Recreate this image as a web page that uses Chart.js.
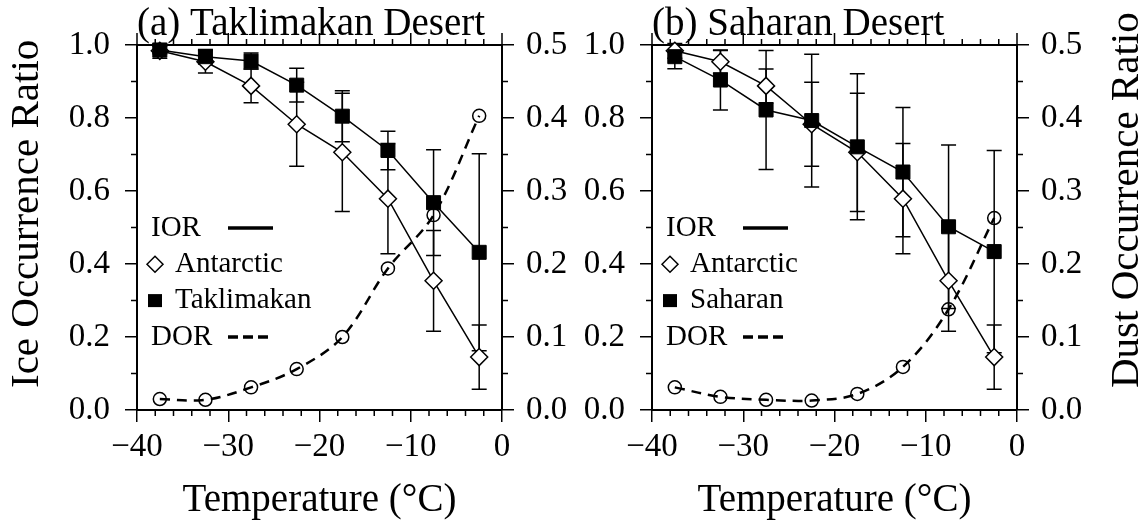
<!DOCTYPE html>
<html>
<head>
<meta charset="utf-8">
<script src="https://cdn.jsdelivr.net/npm/chart.js@4"></script>
<style>
  body { margin: 0; background: #fff; }
  .wrap { display: flex; width: 1148px; height: 524px; }
  canvas { display: block; }
</style>
</head>
<body>
<div class="wrap">
  <canvas id="chartA" width="574" height="524"></canvas>
  <canvas id="chartB" width="574" height="524"></canvas>
</div>
<script>
"use strict";

// Data (bin centres in °C)

const temps = [-37.5, -32.5, -27.5, -22.5, -17.5, -12.5, -7.5, -2.5];

const antarcticIOR = [0.984, 0.954, 0.888, 0.783, 0.706, 0.579, 0.354, 0.145];
const antarcticErr = [0.02, 0.031, 0.046, 0.115, 0.162, 0.151, 0.138, 0.088];

const taklimakanIOR = [0.986, 0.968, 0.956, 0.89, 0.805, 0.711, 0.568, 0.432];
const taklimakanErr = [0.01, 0.02, 0.022, 0.046, 0.07, 0.053, 0.145, 0.27];
const taklimakanDOR = [0.015, 0.014, 0.031, 0.056, 0.1, 0.194, 0.267, 0.403];

const saharanIOR = [0.968, 0.904, 0.822, 0.793, 0.721, 0.652, 0.502, 0.434];
const saharanErr = [0.033, 0.082, 0.163, 0.182, 0.2, 0.177, 0.224, 0.277];
const saharanDOR = [0.031, 0.018, 0.014, 0.013, 0.022, 0.059, 0.138, 0.263];

const legendHeads = ["IOR", "DOR"];

const FONT = '"Liberation Serif", "Times New Roman", serif';
Chart.defaults.font.family = FONT;
Chart.defaults.color = "#000";

const pts = (arr) => temps.map((t, i) => ({ x: t, y: arr[i] }));

// Error bars, drawn under the markers

const errorBars = {
  id: "errorBars",
  beforeDatasetsDraw(chart) {
    const ctx = chart.ctx;
    const xs = chart.scales.x;
    chart.data.datasets.forEach((ds) => {
      if (!ds.errors) return;
      const ys = chart.scales[ds.yAxisID];
      ctx.save();
      ctx.strokeStyle = "#000";
      ctx.lineWidth = 1.5;
      ctx.beginPath();
      ds.data.forEach((p, j) => {
        const px = xs.getPixelForValue(p.x);
        const top = ys.getPixelForValue(p.y + ds.errors[j]);
        const bot = ys.getPixelForValue(p.y - ds.errors[j]);
        ctx.moveTo(px, top);
        ctx.lineTo(px, bot);
        ctx.moveTo(px - 7.5, top);
        ctx.lineTo(px + 7.5, top);
        ctx.moveTo(px - 7.5, bot);
        ctx.lineTo(px + 7.5, bot);
      });
      ctx.stroke();
      ctx.restore();
    });
  },
};

// Top border, top ticks and minor ticks

const frame = {
  id: "frame",
  beforeDatasetsDraw(chart) {
    const { ctx, chartArea: a, scales } = chart;
    ctx.save();
    ctx.strokeStyle = "#000";
    ctx.lineWidth = 2;
    ctx.beginPath();
    ctx.moveTo(a.left - 1, a.top);
    ctx.lineTo(a.right + 1, a.top);
    ctx.stroke();
    ctx.lineWidth = 1.5;
    ctx.beginPath();
    for (let v = -40; v <= 0; v += 2) {
      const px = scales.x.getPixelForValue(v);
      const major = v % 10 === 0;
      ctx.moveTo(px, a.top);
      ctx.lineTo(px, a.top - (major ? 12 : 6));
      if (!major) {
        ctx.moveTo(px, a.bottom);
        ctx.lineTo(px, a.bottom + 6);
      }
    }
    for (let k = 1; k < 10; k += 2) {
      const py = scales.y.getPixelForValue(k / 10);
      ctx.moveTo(a.left, py);
      ctx.lineTo(a.left - 6, py);
      const py2 = scales.y2.getPixelForValue(k / 20);
      ctx.moveTo(a.right, py2);
      ctx.lineTo(a.right + 6, py2);
    }
    ctx.stroke();
    ctx.restore();
  },
};

// Legend inside the plot

const insideLegend = {
  id: "insideLegend",
  afterDatasetsDraw(chart) {
    const { ctx, chartArea: a } = chart;
    const ds = chart.data.datasets;
    const x0 = a.left;
    const rowY = (i) => a.top + 183 + 36.3 * i;
    ctx.save();
    ctx.font = "29px " + FONT;
    ctx.fillStyle = "#000";
    ctx.strokeStyle = "#000";
    ctx.textBaseline = "middle";
    ctx.textAlign = "left";

    // IOR
    ctx.fillText(legendHeads[0], x0 + 14, rowY(0));
    ctx.lineWidth = 3.5;
    ctx.beginPath();
    ctx.moveTo(x0 + 91, rowY(0));
    ctx.lineTo(x0 + 136, rowY(0));
    ctx.stroke();

    // Antarctic diamond
    const dy = rowY(1);
    ctx.lineWidth = 1.5;
    ctx.beginPath();
    ctx.moveTo(x0 + 18 - 8, dy);
    ctx.lineTo(x0 + 18, dy - 8);
    ctx.lineTo(x0 + 18 + 8, dy);
    ctx.lineTo(x0 + 18, dy + 8);
    ctx.closePath();
    ctx.stroke();
    ctx.fillText(ds[1].label, x0 + 38, dy);

    // desert square
    const sy = rowY(2);
    ctx.fillRect(x0 + 11, sy - 6.5, 14, 13);
    ctx.fillText(ds[0].label, x0 + 38, sy);

    // DOR
    ctx.fillText(legendHeads[1], x0 + 14, rowY(3));
    ctx.lineWidth = 3.5;
    ctx.setLineDash([10, 5]);
    ctx.beginPath();
    ctx.moveTo(x0 + 91, rowY(3));
    ctx.lineTo(x0 + 131, rowY(3));
    ctx.stroke();
    ctx.restore();
  },
};

// Rotated side titles, reading bottom to top

const sideTitle = {
  id: "sideTitle",
  afterDraw(chart, args, opts) {
    if (!opts.text) return;
    const ctx = chart.ctx;
    ctx.save();
    ctx.font = "41px " + FONT;
    ctx.fillStyle = "#000";
    ctx.translate(opts.x, chart.chartArea.bottom - 22);
    ctx.rotate(-Math.PI / 2);
    ctx.textAlign = "left";
    ctx.textBaseline = "middle";
    ctx.fillText(opts.text, 0, 0);
    ctx.restore();
  },
};

const makeChart = (canvasId, title, site, siteIOR, siteErr, siteDOR, leftWidth, rightWidth, side) => {
  const tickGrid = { drawOnChartArea: false, color: "#000", lineWidth: 1.5, tickLength: 12 };
  const border = { color: "#000", width: 2 };
  return new Chart(document.getElementById(canvasId), {
    type: "line",
    data: {
      datasets: [
        {
          label: site,
          data: pts(siteIOR),
          errors: siteErr,
          yAxisID: "y",
          borderColor: "#000",
          borderWidth: 1.5,
          pointStyle: "rect",
          pointRadius: 9.9,
          pointBackgroundColor: "#000",
          pointBorderColor: "#000",
          pointBorderWidth: 1,
          clip: false,
        },
        {
          label: "Antarctic",
          data: pts(antarcticIOR),
          errors: antarcticErr,
          yAxisID: "y",
          borderColor: "#000",
          borderWidth: 1.5,
          pointStyle: "rectRot",
          pointRadius: 8.5,
          pointBackgroundColor: "#fff",
          pointBorderColor: "#000",
          pointBorderWidth: 1.5,
          clip: false,
        },
        {
          label: "DOR",
          data: pts(siteDOR),
          yAxisID: "y2",
          borderColor: "#000",
          borderWidth: 2.5,
          borderDash: [10, 7],
          tension: 0.35,
          pointStyle: "circle",
          pointRadius: 6.5,
          pointBackgroundColor: "rgba(0,0,0,0)",
          pointBorderColor: "#000",
          pointBorderWidth: 1.5,
          clip: false,
        },
      ],
    },
    options: {
      responsive: false,
      animation: false,
      events: [],
      layout: { padding: 0 },
      plugins: {
        legend: { display: false },
        tooltip: { enabled: false },
        title: {
          display: true,
          text: title,
          align: "start",
          fullSize: false,
          color: "#000",
          font: { size: 39, lineHeight: 1, weight: "normal" },
          padding: { top: 5, bottom: 1 },
        },
        sideTitle: side,
      },
      scales: {
        x: {
          type: "linear",
          min: -40,
          max: 0,
          ticks: {
            stepSize: 10,
            padding: 6,
            font: { size: 33 },
            callback: (v) => (v < 0 ? "\u2212" + Math.abs(v) : String(v)),
          },
          grid: tickGrid,
          border: border,
          title: {
            display: true,
            text: "Temperature (°C)",
            font: { size: 39 },
            padding: { top: 0, bottom: 0 },
          },
          afterFit: (s) => { s.height = 114; },
        },
        y: {
          position: "left",
          min: 0,
          max: 1,
          ticks: { stepSize: 0.2, padding: 15, font: { size: 33 }, callback: (v) => v.toFixed(1) },
          grid: tickGrid,
          border: border,
          afterFit: (s) => { s.width = leftWidth; },
        },
        y2: {
          position: "right",
          min: 0,
          max: 0.5,
          ticks: { stepSize: 0.1, padding: 12, font: { size: 33 }, callback: (v) => v.toFixed(1) },
          grid: tickGrid,
          border: border,
          afterFit: (s) => { s.width = rightWidth; },
        },
      },
    },
    plugins: [frame, errorBars, insideLegend, sideTitle],
  });
};

makeChart("chartA", "(a) Taklimakan Desert", "Taklimakan",
  taklimakanIOR, taklimakanErr, taklimakanDOR, 137, 72,
  { text: "Ice Occurrence Ratio", x: 27.5 });

makeChart("chartB", "(b) Saharan Desert", "Saharan",
  saharanIOR, saharanErr, saharanDOR, 78, 131,
  { text: "Dust Occurrence Ratio", x: 553.5 });
</script>
</body>
</html>
